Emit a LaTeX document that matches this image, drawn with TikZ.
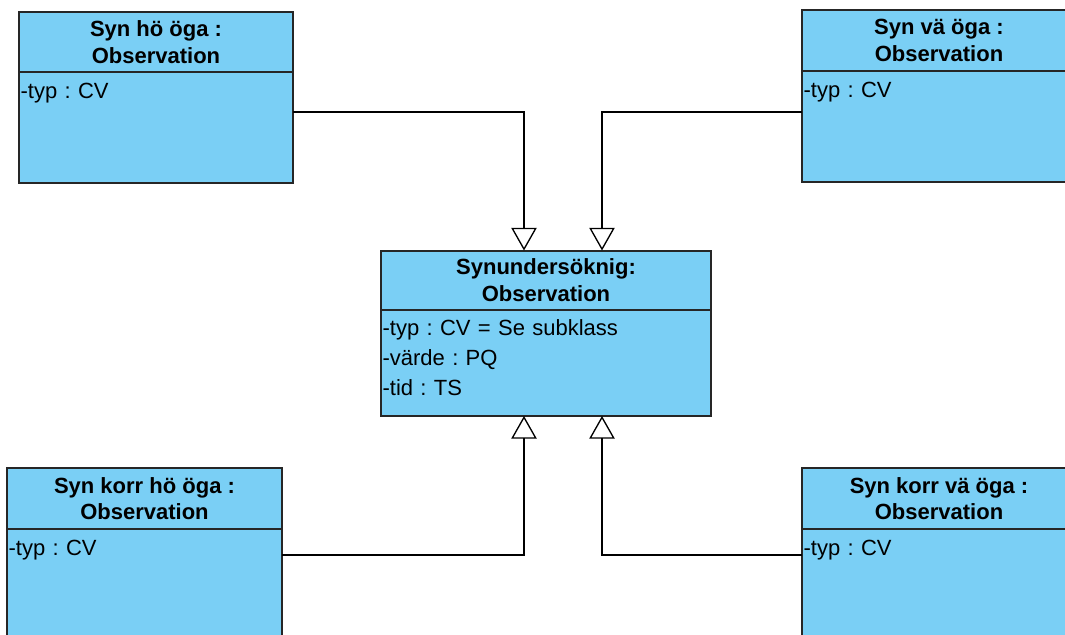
\documentclass[tikz,border=0pt]{standalone}
\usepackage{fontspec}
\setmainfont{Liberation Sans}
\usetikzlibrary{arrows.meta}

\definecolor{klassbla}{RGB}{122,207,245}

\tikzset{
    rubrik/.style={draw=black!85, line width=1.5pt, fill=klassbla, inner sep=0pt, outer sep=0pt,
        anchor=north west, align=center, font=\fontsize{16.5}{20}\selectfont\bfseries},
    kropp/.style={draw=black!85, line width=1.5pt, fill=klassbla, inner sep=0pt, outer sep=0pt,
        anchor=north west},
    attr/.style={inner sep=0pt, anchor=base west, text width=240pt, align=left,
        font=\fontsize{16.5}{22.5}\selectfont\frenchspacing},
    arv/.style={line width=1pt, -{Triangle[open, length=17pt, width=19pt, fill=white]}}
}

\begin{document}
\begin{tikzpicture}[x=0.75pt, y=-0.75pt]
    \useasboundingbox (0,0) rectangle (1065,635);

    % Synundersokning (mitten)
    \node[rubrik, minimum width=247.5pt, minimum height=44.6pt] (cnh) at (381,250.5) {Synundersöknig:\\Observation};
    \node[kropp, minimum width=247.5pt, minimum height=79.5pt] (cnb) at (cnh.south west) {};
    \node[attr] (cna) at ([xshift=1pt,yshift=-19.5pt]cnb.north west) {-typ : CV = Se subklass\\-värde : PQ\\-tid : TS};

    % Syn ho oga
    \node[rubrik, minimum width=205.5pt, minimum height=45pt] (tlh) at (19,12) {Syn hö öga :\\Observation};
    \node[kropp, minimum width=205.5pt, minimum height=83.25pt] (tlb) at (tlh.south west) {};
    \node[attr] (tla) at ([xshift=1pt,yshift=-20pt]tlb.north west) {-typ : CV};

    % Syn va oga
    \node[rubrik, minimum width=205.5pt, minimum height=45.4pt] (trh) at (802,10) {Syn vä öga :\\Observation};
    \node[kropp, minimum width=205.5pt, minimum height=83.6pt] (trb) at (trh.south west) {};
    \node[attr] (tra) at ([xshift=1pt,yshift=-20pt]trb.north west) {-typ : CV};

    % Syn korr ho oga
    \node[rubrik, minimum width=206.25pt, minimum height=45.75pt] (blh) at (7,468) {Syn korr hö öga :\\Observation};
    \node[kropp, minimum width=206.25pt, minimum height=90pt] (blb) at (blh.south west) {};
    \node[attr] (bla) at ([xshift=1pt,yshift=-20pt]blb.north west) {-typ : CV};

    % Syn korr va oga
    \node[rubrik, minimum width=205.5pt, minimum height=45.75pt] (brh) at (802,468) {Syn korr vä öga :\\Observation};
    \node[kropp, minimum width=205.5pt, minimum height=90pt] (brb) at (brh.south west) {};
    \node[attr] (bra) at ([xshift=1pt,yshift=-20pt]brb.north west) {-typ : CV};

    % arv
    \draw[arv] ([yshift=-30pt]tlb.north east) -| ([xshift=107.25pt]cnh.north west);
    \draw[arv] ([yshift=-31pt]trb.north west) -| ([xshift=165.75pt]cnh.north west);
    \draw[arv] ([yshift=-19.5pt]blb.north east) -| ([xshift=107.25pt]cnb.south west);
    \draw[arv] ([yshift=-19.5pt]brb.north west) -| ([xshift=165.75pt]cnb.south west);

\end{tikzpicture}
\end{document}
